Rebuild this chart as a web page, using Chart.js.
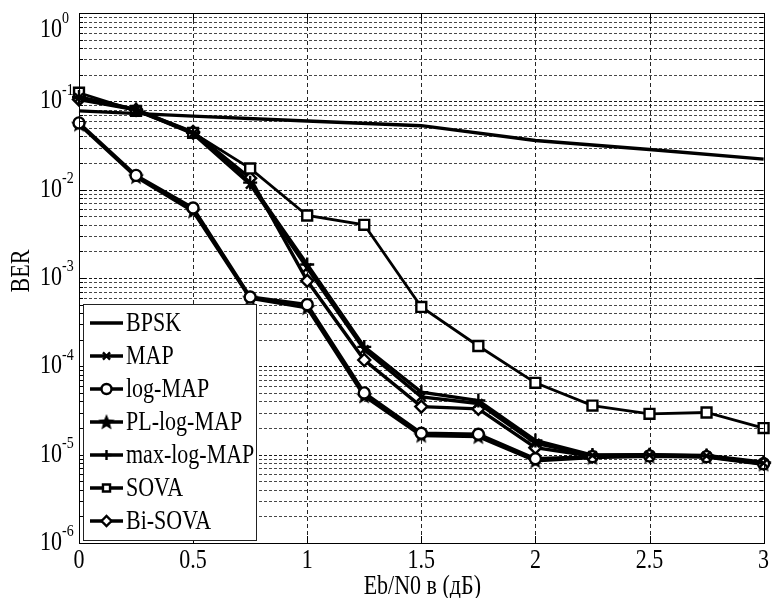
<!DOCTYPE html>
<html>
<head>
<meta charset="utf-8">
<script src="https://cdn.jsdelivr.net/npm/chart.js@4.4.1/dist/chart.umd.min.js"></script>
<style>
  html, body { margin: 0; padding: 0; background: #fff; }
  canvas { display: block; }
</style>
</head>
<body>
<canvas id="berChart" width="774" height="598"></canvas>
<script>
// Eb/N0 points (dB)
const ebn0 = [0, 0.25, 0.5, 0.75, 1, 1.25, 1.5, 1.75, 2, 2.25, 2.5, 2.75, 3];
const bpskX = [0, 0.5, 1, 1.5, 2, 2.5, 3];

// BER values
const bpsk = [0.078, 0.068, 0.06, 0.053, 0.036, 0.0285, 0.0222];
const mapBer = [0.11, 0.08, 0.043, 0.0115, 1.3e-3, 1.55e-4, 4.5e-5, 3.8e-5, 1.35e-5, 9.8e-6, 9.9e-6, 9.7e-6, 8.0e-6];
const logMap = [0.057, 0.0145, 0.0062, 6.1e-4, 5.0e-4, 5.0e-5, 1.75e-5, 1.7e-5, 9.0e-6, 9.5e-6, 9.7e-6, 9.5e-6, 7.9e-6];
const plLogMap = [0.055, 0.014, 0.0057, 5.9e-4, 4.6e-4, 4.6e-5, 1.65e-5, 1.6e-5, 8.5e-6, 9.3e-6, 9.6e-6, 9.4e-6, 7.8e-6];
const maxLogMap = [0.112, 0.081, 0.044, 0.012, 1.42e-3, 1.66e-4, 5.1e-5, 4.1e-5, 1.45e-5, 9.9e-6, 1.0e-5, 9.8e-6, 8.2e-6];
const sova = [0.125, 0.078, 0.044, 0.0174, 0.0051, 0.004, 4.7e-4, 1.7e-4, 6.5e-5, 3.6e-5, 2.9e-5, 3.0e-5, 2.0e-5];
const biSova = [0.105, 0.08, 0.045, 0.0135, 9.3e-4, 1.18e-4, 3.5e-5, 3.3e-5, 1.2e-5, 9.6e-6, 9.8e-6, 9.6e-6, 8.0e-6];

// axis ticks
const xTicks = [0, 0.5, 1, 1.5, 2, 2.5, 3];
const xTickLabels = ["0", "0.5", "1", "1.5", "2", "2.5", "3"];
const yExponents = [0, -1, -2, -3, -4, -5, -6];
const minorSteps = [1, 2, 3, 4, 5, 6, 7, 8, 9];

const FONT = "'Liberation Serif', 'Times New Roman', serif";

const pts = (xs, ys) => xs.map((x, i) => ({ x: x, y: ys[i] }));

// filled five-point star marker, like matlab 'p'
const pentagram = (() => {
  const c = document.createElement("canvas");
  c.width = 18;
  c.height = 18;
  const g = c.getContext("2d");
  g.beginPath();
  for (let i = 0; i < 10; i++) {
    const r = i % 2 ? 3.8 : 8.5;
    const a = -Math.PI / 2 + (i * Math.PI) / 5;
    const px = 9 + r * Math.cos(a);
    const py = 9.5 + r * Math.sin(a);
    if (i) g.lineTo(px, py);
    else g.moveTo(px, py);
  }
  g.closePath();
  g.fillStyle = "#000";
  g.fill();
  return c;
})();

function series(label, data, style, radius, lineW) {
  return {
    label: label,
    data: data,
    borderColor: "#000",
    borderWidth: lineW || 3.4,
    pointStyle: style,
    pointRadius: radius,
    pointBorderColor: "#000",
    pointBackgroundColor: "#fff",
    pointBorderWidth: 2.4,
    tension: 0,
    fill: false,
    clip: false,
  };
}

const datasets = [
  series("BPSK", pts(bpskX, bpsk), "circle", 0, 3.4),
  series("MAP", pts(ebn0, mapBer), "crossRot", 6),
  series("log-MAP", pts(ebn0, logMap), "circle", 5.5),
  series("PL-log-MAP", pts(ebn0, plLogMap), pentagram, 8),
  series("max-log-MAP", pts(ebn0, maxLogMap), "cross", 7),
  series("SOVA", pts(ebn0, sova), "rect", 7, 2.8),
  series("Bi-SOVA", pts(ebn0, biSova), "rectRot", 6),
];

const isDecade = (v) => Math.abs(Math.log10(v) - Math.round(Math.log10(v))) < 1e-9;

// text slightly stretched vertically, as in the scanned figure
function drawText(ctx, text, x, y, size, align, baseline) {
  ctx.save();
  ctx.translate(x, y);
  ctx.scale(1, 1.2);
  ctx.font = size + "px " + FONT;
  ctx.textAlign = align || "left";
  ctx.textBaseline = baseline || "middle";
  ctx.fillStyle = "#000";
  ctx.fillText(text, 0, 0);
  ctx.restore();
}

// dotted matlab-style grid, drawn from the scale ticks
const dottedGrid = {
  id: "dottedGrid",
  beforeDatasetsDraw(chart) {
    const ctx = chart.ctx;
    const a = chart.chartArea;
    const xs = chart.scales.x;
    const ys = chart.scales.y;
    ctx.save();
    ctx.lineWidth = 1;
    ys.ticks.forEach((t) => {
      const y = Math.round(ys.getPixelForValue(t.value)) + 0.5;
      ctx.strokeStyle = isDecade(t.value) ? "rgba(0,0,0,0.9)" : "rgba(0,0,0,0.72)";
      ctx.setLineDash([3, 2]);
      ctx.beginPath();
      ctx.moveTo(a.left, y);
      ctx.lineTo(a.right, y);
      ctx.stroke();
    });
    xs.ticks.forEach((t) => {
      const x = Math.round(xs.getPixelForValue(t.value)) + 0.5;
      ctx.strokeStyle = "rgba(0,0,0,0.85)";
      ctx.setLineDash([4, 3]);
      ctx.beginPath();
      ctx.moveTo(x, a.top);
      ctx.lineTo(x, a.bottom);
      ctx.stroke();
    });
    ctx.restore();
  },
};

const matlabAxes = {
  id: "matlabAxes",
  afterDraw(chart) {
    const ctx = chart.ctx;
    const a = chart.chartArea;
    const xs = chart.scales.x;
    const ys = chart.scales.y;

    ctx.save();
    // inner ticks
    ctx.strokeStyle = "#000";
    ctx.lineWidth = 1;
    ctx.setLineDash([]);
    ctx.beginPath();
    ys.ticks.forEach((t) => {
      const y = Math.round(ys.getPixelForValue(t.value)) + 0.5;
      const len = isDecade(t.value) ? 7 : 4;
      ctx.moveTo(a.left, y);
      ctx.lineTo(a.left + len, y);
      ctx.moveTo(a.right, y);
      ctx.lineTo(a.right - len, y);
    });
    xTicks.forEach((v) => {
      const x = Math.round(xs.getPixelForValue(v)) + 0.5;
      ctx.moveTo(x, a.bottom);
      ctx.lineTo(x, a.bottom - 7);
      ctx.moveTo(x, a.top);
      ctx.lineTo(x, a.top + 7);
    });
    ctx.stroke();

    // box
    ctx.strokeRect(Math.round(a.left) + 0.5, Math.round(a.top) + 0.5,
      Math.round(a.right - a.left), Math.round(a.bottom - a.top));

    // x tick labels
    xTicks.forEach((v, i) => {
      drawText(ctx, xTickLabels[i], xs.getPixelForValue(v), a.bottom + 18, 22, "center");
    });

    // y tick labels 10^n
    yExponents.forEach((e) => {
      const y = Math.max(ys.getPixelForValue(Math.pow(10, e)), 30);
      drawText(ctx, "10", 40, y, 22, "left");
      drawText(ctx, String(e), 62, y - 11, 14, "left");
    });

    // axis titles
    drawText(ctx, "Eb/N0 в (дБ)", (a.left + a.right) / 2 + 1, 587, 22, "center");
    ctx.save();
    ctx.translate(22, 271);
    ctx.rotate(-Math.PI / 2);
    drawText(ctx, "BER", 0, 0, 22, "center");
    ctx.restore();

    // legend
    const lx = 83.5, ly = 304.5, lw = 173, lh = 236;
    ctx.fillStyle = "#fff";
    ctx.fillRect(lx, ly, lw, lh);
    ctx.strokeStyle = "#222";
    ctx.lineWidth = 1;
    ctx.strokeRect(lx, ly, lw, lh);
    chart.data.datasets.forEach((ds, i) => {
      const cy = 323 + i * 33;
      ctx.strokeStyle = "#000";
      ctx.lineWidth = 3.4;
      ctx.beginPath();
      ctx.moveTo(90, cy);
      ctx.lineTo(123, cy);
      ctx.stroke();
      if (ds.pointRadius > 0) {
        ctx.fillStyle = ds.pointBackgroundColor;
        ctx.strokeStyle = ds.pointBorderColor;
        ctx.lineWidth = ds.pointBorderWidth;
        Chart.helpers.drawPoint(ctx, {
          pointStyle: ds.pointStyle,
          radius: Math.min(ds.pointRadius, 5),
          rotation: 0,
          borderWidth: ds.pointBorderWidth,
        }, 106.5, cy);
      }
      drawText(ctx, ds.label, 126, cy + 1, 22, "left");
    });
    ctx.restore();
  },
};

new Chart(document.getElementById("berChart").getContext("2d"), {
  type: "line",
  data: { datasets: datasets },
  options: {
    responsive: false,
    animation: false,
    devicePixelRatio: 1,
    layout: { padding: { left: 0, top: 13, right: 3, bottom: 0 } },
    plugins: { legend: { display: false }, tooltip: { enabled: false } },
    scales: {
      x: {
        type: "linear",
        min: 0,
        max: 3,
        afterBuildTicks: (scale) => {
          scale.ticks = xTicks.map((v) => ({ value: v }));
        },
        afterFit: (scale) => {
          scale.height = 55;
        },
        ticks: { display: false },
        border: { display: false },
        grid: { display: false },
      },
      y: {
        type: "logarithmic",
        min: 1e-6,
        max: 1,
        afterBuildTicks: (scale) => {
          const t = [];
          yExponents.slice().reverse().forEach((e) => {
            if (e === 0) t.push({ value: 1 });
            else minorSteps.forEach((m) => t.push({ value: m * Math.pow(10, e) }));
          });
          scale.ticks = t;
        },
        afterFit: (scale) => {
          scale.width = 79;
        },
        ticks: { display: false },
        border: { display: false },
        grid: { display: false },
      },
    },
  },
  plugins: [dottedGrid, matlabAxes],
});
</script>
</body>
</html>
